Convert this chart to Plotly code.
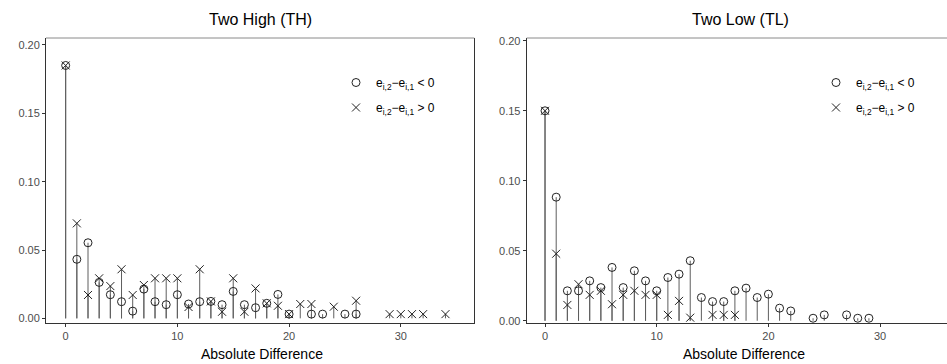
import plotly.graph_objects as go

# ---- data: Two High (TH) ----
th_neg_x = [0, 1, 2, 3, 4, 5, 6, 7, 8, 9, 10, 11, 12, 13, 14, 15, 16, 17, 18, 19, 20, 22, 23, 25, 26]
th_neg_y = [0.185, 0.0432, 0.0553, 0.0263, 0.0173, 0.0122, 0.0053, 0.0214, 0.0122, 0.0100, 0.0173,
            0.0105, 0.0122, 0.0124, 0.0100, 0.0197, 0.0100, 0.0078, 0.0110, 0.0175, 0.0031, 0.0031,
            0.0031, 0.0031, 0.0031]
th_pos_x = [0, 1, 2, 3, 4, 5, 6, 7, 8, 9, 10, 11, 12, 13, 14, 15, 16, 17, 18, 19, 20, 21, 22, 24, 26,
            29, 30, 31, 32, 34]
th_pos_y = [0.185, 0.0695, 0.0171, 0.0293, 0.0236, 0.0359, 0.0171, 0.0244, 0.0293, 0.0293, 0.0293,
            0.0083, 0.0359, 0.0124, 0.0048, 0.0293, 0.0048, 0.0219, 0.0110, 0.0092, 0.0031, 0.0105,
            0.0105, 0.0085, 0.0129, 0.0031, 0.0031, 0.0031, 0.0031, 0.0031]

# ---- data: Two Low (TL) ----
tl_neg_x = [0, 1, 2, 3, 4, 5, 6, 7, 8, 9, 10, 11, 12, 13, 14, 15, 16, 17, 18, 19, 20, 21, 22, 24, 25,
            27, 28, 29]
tl_neg_y = [0.150, 0.0883, 0.0214, 0.0214, 0.0285, 0.0237, 0.0381, 0.0237, 0.0357, 0.0285, 0.0214,
            0.0309, 0.0333, 0.0429, 0.0166, 0.0137, 0.0137, 0.0214, 0.0233, 0.0166, 0.0190, 0.0090,
            0.0070, 0.0018, 0.0042, 0.0042, 0.0018, 0.0018]
tl_pos_x = [0, 1, 2, 3, 4, 5, 6, 7, 8, 9, 10, 11, 12, 13, 15, 16, 17]
tl_pos_y = [0.150, 0.0479, 0.0113, 0.0261, 0.0185, 0.0214, 0.0118, 0.0185, 0.0214, 0.0185, 0.0185,
            0.0042, 0.0142, 0.0022, 0.0042, 0.0042, 0.0042]

panel_titles = ["Two High (TH)", "Two Low (TL)"]
x_title = "Absolute Difference"
x_ticks = [0, 10, 20, 30]
y_ticks = [0.00, 0.05, 0.10, 0.15, 0.20]
leg_neg = "e<sub>i,2</sub>−e<sub>i,1</sub> &lt; 0"
leg_pos = "e<sub>i,2</sub>−e<sub>i,1</sub> &gt; 0"

FONT = "Liberation Sans, Arial, sans-serif"
STEM = "#5e5e5e"
MARK = "#222222"


def stems(xs, ys):
    sx, sy = [], []
    for a, b in zip(xs, ys):
        sx += [a, a, None]
        sy += [0, b, None]
    return sx, sy


fig = go.Figure()

panels = [
    (th_neg_x, th_neg_y, th_pos_x, th_pos_y, "x", "y", "legend"),
    (tl_neg_x, tl_neg_y, tl_pos_x, tl_pos_y, "x2", "y2", "legend2"),
]
for k, (nx, ny, px, py, xa, ya, lg) in enumerate(panels):
    for xs, ys in ((nx, ny), (px, py)):
        sx, sy = stems(xs, ys)
        fig.add_trace(go.Scatter(x=sx, y=sy, mode="lines", xaxis=xa, yaxis=ya,
                                 line=dict(color=STEM, width=1), showlegend=False,
                                 hoverinfo="skip"))
    fig.add_trace(go.Scatter(x=nx, y=ny, mode="markers", xaxis=xa, yaxis=ya, name=leg_neg,
                             legend=lg, legendgroup=f"neg{k}",
                             marker=dict(symbol="circle-open", size=8, color=MARK,
                                         line=dict(width=1, color=MARK))))
    fig.add_trace(go.Scatter(x=px, y=py, mode="markers", xaxis=xa, yaxis=ya, name=leg_pos,
                             legend=lg, legendgroup=f"pos{k}",
                             marker=dict(symbol="x-thin-open", size=8, color=MARK,
                                         line=dict(width=1, color=MARK))))

W, H = 947, 364
L, R, T, B = 46, 0, 38, 41
pw = W - L - R
ph = H - T - B
d1 = [0, (474.3 - L) / pw]
d2 = [(526.7 - L) / pw, 1.0]

axis_common = dict(showgrid=False, zeroline=False, showline=True, linecolor="#333333",
                   linewidth=1, ticks="outside", ticklen=3, tickcolor="#333333",
                   tickfont=dict(family=FONT, size=11, color="#4d4d4d"))

legend_common = dict(xref="paper", y=1 - (68 - T) / ph, xanchor="left", yanchor="top",
                     bgcolor="rgba(0,0,0,0)", font=dict(family=FONT, size=12, color="#000"),
                     itemwidth=30, tracegroupgap=6)

fig.update_layout(
    width=W, height=H,
    margin=dict(l=L, r=R, t=T, b=B),
    paper_bgcolor="white", plot_bgcolor="white",
    font=dict(family=FONT, color="#000000"),
    hovermode=False,
    xaxis=dict(domain=d1, range=[-1.76, 36.58], tickvals=x_ticks, anchor="y", **axis_common),
    yaxis=dict(domain=[0, 1], range=[-0.0034, 0.2051], tickvals=y_ticks, tickformat=".2f",
               anchor="x", mirror=True, **axis_common),
    xaxis2=dict(domain=d2, range=[-1.64, 35.99], tickvals=x_ticks, anchor="y2", **axis_common),
    yaxis2=dict(domain=[0, 1], range=[-0.0016, 0.202], tickvals=y_ticks, tickformat=".2f",
                anchor="x2", **axis_common),
    legend=dict(x=(336 - L) / pw, **legend_common),
    legend2=dict(x=(816 - L) / pw, **legend_common),
    annotations=[
        dict(text=panel_titles[0], x=(260 - L) / pw, y=1, xref="paper", yref="paper",
             xanchor="center", yanchor="bottom", yshift=8, showarrow=False,
             font=dict(family=FONT, size=16, color="#000")),
        dict(text=panel_titles[1], x=(740 - L) / pw, y=1, xref="paper", yref="paper",
             xanchor="center", yanchor="bottom", yshift=8, showarrow=False,
             font=dict(family=FONT, size=16, color="#000")),
        dict(text=x_title, x=(262 - L) / pw, y=-(354 - T - ph) / ph, xref="paper", yref="paper",
             xanchor="center", yanchor="middle", showarrow=False,
             font=dict(family=FONT, size=14, color="#000")),
        dict(text=x_title, x=(744 - L) / pw, y=-(354 - T - ph) / ph, xref="paper", yref="paper",
             xanchor="center", yanchor="middle", showarrow=False,
             font=dict(family=FONT, size=14, color="#000")),
    ],
    shapes=[
        dict(type="line", xref="paper", yref="paper", x0=d1[0], x1=d1[1], y0=1, y1=1,
             line=dict(color="#8a8a8a", width=1)),
        dict(type="line", xref="paper", yref="paper", x0=d2[0], x1=d2[1], y0=1, y1=1,
             line=dict(color="#8a8a8a", width=1)),
    ],
)

fig.write_html("out.html", config={"displayModeBar": False},
               post_script="document.body.style.margin='0px';document.body.style.padding='0px';")
